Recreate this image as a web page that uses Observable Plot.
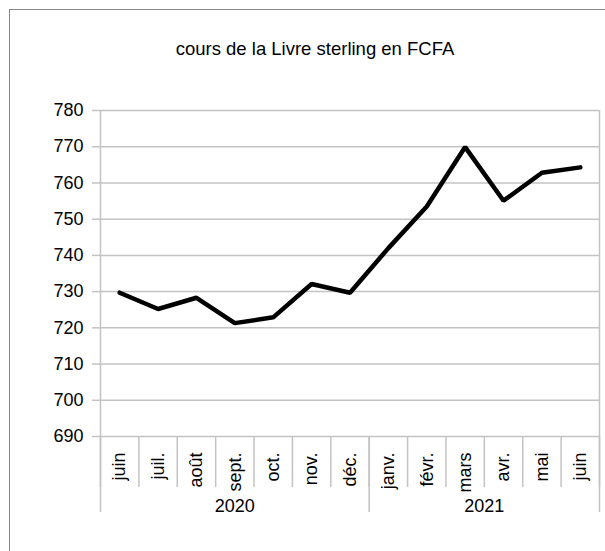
<!DOCTYPE html>
<html>
<head>
<meta charset="utf-8">
<script src="https://cdn.jsdelivr.net/npm/d3@7"></script>
<script src="https://cdn.jsdelivr.net/npm/@observablehq/plot@0.6"></script>
<style>
  html, body { margin: 0; padding: 0; background: #fff; width: 605px; height: 551px; overflow: hidden; }
  #wrap { position: relative; width: 605px; height: 551px; }
  #border { position: absolute; left: 9px; top: 9px; width: 700px; height: 700px; border: 1.5px solid #858585; box-sizing: border-box; z-index: 2; pointer-events: none; }
  #chart { position: absolute; left: 0; top: 0; z-index: 1; }
</style>
</head>
<body>
<div id="wrap"><div id="border"></div><div id="chart"></div></div>
<script>
const title = "cours de la Livre sterling en FCFA";
const months = ["juin", "juil.", "août", "sept.", "oct.", "nov.", "déc.", "janv.", "févr.", "mars", "avr.", "mai", "juin"];
const values = [729.7, 725.2, 728.3, 721.3, 722.9, 732.1, 729.7, 742.0, 753.5, 769.9, 755.1, 762.8, 764.3];
const years = ["2020", "2021"];
const yearCounts = [7, 6];
const yTicks = [690, 700, 710, 720, 730, 740, 750, 760, 770, 780];

const data = months.map((m, i) => ({i, month: m, value: values[i]}));
const monthBounds = d3.range(months.length + 1).map(i => i - 0.5);
let acc = 0;
const yearData = years.map((y, k) => {
  const start = acc - 0.5;
  acc += yearCounts[k];
  const end = acc - 0.5;
  return {year: y, start, end, center: (start + end) / 2};
});
const yearBounds = [yearData[0].start, ...yearData.map(d => d.end)];
const frameSides = [yearBounds[0], yearBounds[yearBounds.length - 1]];

const font = "'Liberation Sans', Arial, sans-serif";
const grid = "#c3c3c3";

const chart = Plot.plot({
  width: 605,
  height: 551,
  marginLeft: 100,
  marginRight: 6,
  marginTop: 110,
  marginBottom: 115,
  style: {background: "transparent", fontFamily: font, fontSize: "18px", color: "#000"},
  x: {type: "linear", domain: [-0.5, months.length - 0.5], axis: null},
  y: {domain: [690, 780], axis: null, label: null},
  marks: [
    Plot.ruleY(yTicks, {stroke: grid, strokeWidth: 1.5}),
    Plot.ruleX(frameSides, {stroke: grid, strokeWidth: 1.5}),
    Plot.ruleX(yearBounds, {stroke: grid, strokeWidth: 1.5, insetTop: 326, insetBottom: -76}),
    Plot.ruleX(monthBounds, {stroke: grid, strokeWidth: 1.5, insetTop: 326, insetBottom: -51}),
    Plot.axisY(yTicks, {label: null, tickSize: 8, tickPadding: 9, stroke: grid, strokeWidth: 1.5, fontSize: 18, fill: "#000", tickFormat: d => String(d)}),
    Plot.text(data, {x: "i", text: "month", frameAnchor: "bottom", rotate: -90, textAnchor: "end", lineAnchor: "middle", dy: 16, fontSize: 18, fill: "#000"}),
    Plot.text(yearData, {x: "center", text: "year", frameAnchor: "bottom", dy: 70, lineAnchor: "middle", fontSize: 18, fill: "#000"}),
    Plot.text([title], {frameAnchor: "top", dx: -35, dy: -61, lineAnchor: "middle", fontSize: 18.5, fill: "#000"}),
    Plot.line(data, {x: "i", y: "value", stroke: "#000", strokeWidth: 4.5, strokeLinejoin: "miter"})
  ]
});
document.getElementById("chart").appendChild(chart);
</script>
</body>
</html>
